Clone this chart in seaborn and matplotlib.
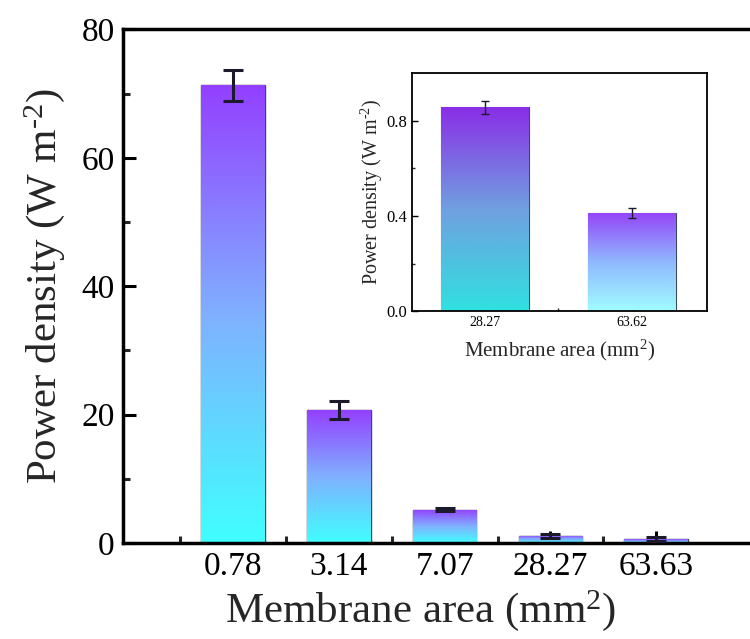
import numpy as np
import pandas as pd
import matplotlib
matplotlib.use('Agg')
import matplotlib.pyplot as plt
from matplotlib.colors import LinearSegmentedColormap
from matplotlib.ticker import MultipleLocator, FixedLocator
import seaborn as sns

# main chart data
areas = ['0.78', '3.14', '7.07', '28.27', '63.63']
power = [71.3, 20.7, 5.2, 1.1, 0.6]
power_err = [2.4, 1.4, 0.2, 0.3, 0.3]

# inset data
inset_areas = ['28.27', '63.62']
inset_power = [0.856, 0.413]
inset_err = [0.026, 0.021]

main_colors = ['#9340ff', '#80b0ff', '#40ffff']
inset_colors = [['#8a2ee6', '#70a0e0', '#30e0e0'],
                ['#9444f8', '#90b8ff', '#a0fcff']]

sns.set_theme(style='ticks')
plt.rcParams['font.family'] = ['Liberation Serif', 'DejaVu Serif']
plt.rcParams['mathtext.fontset'] = 'custom'
plt.rcParams['mathtext.rm'] = 'Liberation Serif'
plt.rcParams['mathtext.it'] = 'Liberation Serif:italic'
plt.rcParams['mathtext.bf'] = 'Liberation Serif:bold'

YLABEL = 'Power density (W m$^{\\text{-2}}$)'
XLABEL = 'Membrane area (mm$^{\\text{2}}$)'


def gradient_bars(ax, colors_list):
    """Fill each bar patch with a vertical gradient (top purple -> bottom cyan)"""
    grad = np.linspace(1, 0, 256).reshape(-1, 1)
    for patch, cols in zip(ax.patches, colors_list):
        cmap = LinearSegmentedColormap.from_list('g', cols[::-1])
        x0, y0 = patch.get_x(), patch.get_y()
        w, h = patch.get_width(), patch.get_height()
        im = ax.imshow(grad, aspect='auto', cmap=cmap, origin='upper',
                       extent=[x0, x0 + w, y0, y0 + h], zorder=patch.get_zorder())
        im.set_clip_path(patch)
        patch.set_facecolor('none')


fig = plt.figure(figsize=(7.5, 6.39), dpi=100)

# main axes
ax = fig.add_axes([0.164, 0.150, 0.852, 0.804])
df = pd.DataFrame({'area': areas, 'power': power})
sns.barplot(data=df, x='area', y='power', order=areas, width=0.6, ax=ax,
            edgecolor='#3a4a5a', linewidth=1.0, errorbar=None)
gradient_bars(ax, [main_colors] * len(areas))
ax.errorbar(range(len(areas)), power, yerr=power_err, fmt='none',
            ecolor='#1a1a2a', elinewidth=2.2, capsize=7, capthick=2.2, zorder=5)
ax.set_xlim(-1.04, 5)
ax.set_ylim(0, 80)
ax.yaxis.set_major_locator(MultipleLocator(20))
ax.yaxis.set_minor_locator(MultipleLocator(10))
ax.xaxis.set_minor_locator(FixedLocator([-0.5, 0.5, 1.5, 2.5, 3.5]))
ax.tick_params(axis='both', which='major', direction='in', length=9, width=2.2,
               labelsize=24, pad=6, colors='black')
ax.tick_params(axis='both', which='minor', direction='in', length=5, width=2.2)
ax.tick_params(top=False, right=False, which='both')
for s in ax.spines.values():
    s.set_linewidth(2.5)
    s.set_color('black')
ax.set_xlabel(XLABEL, fontsize=31)
ax.xaxis.set_label_coords(0.465, -0.088, transform=ax.transAxes)
ax.xaxis.label.set_va('top')
ax.set_ylabel(YLABEL, fontsize=31, labelpad=10)

# inset axes
ins = fig.add_axes([0.549, 0.513, 0.393, 0.3725])
idf = pd.DataFrame({'area': inset_areas, 'power': inset_power})
sns.barplot(data=idf, x='area', y='power', order=inset_areas, width=0.6, ax=ins,
            edgecolor='#3a4a5a', linewidth=0.8, errorbar=None)
gradient_bars(ins, inset_colors)
ins.errorbar(range(len(inset_areas)), inset_power, yerr=inset_err, fmt='none',
             ecolor='#1a1a2a', elinewidth=1.0, capsize=3, capthick=1.0, zorder=5)
ins.set_xlim(-0.5, 1.51)
ins.set_ylim(0, 1.0)
ins.yaxis.set_major_locator(FixedLocator([0.0, 0.4, 0.8]))
ins.yaxis.set_minor_locator(FixedLocator([0.2, 0.6]))
ins.xaxis.set_minor_locator(FixedLocator([0.5]))
ins.yaxis.set_major_formatter(plt.FuncFormatter(lambda v, p: f'{v:.1f}'))
ins.tick_params(axis='both', which='major', direction='in', length=4, width=1.0,
                colors='black')
ins.tick_params(axis='y', which='major', labelsize=12)
ins.tick_params(axis='x', which='major', labelsize=10)
ins.tick_params(axis='both', which='minor', direction='in', length=2.5, width=1.0)
ins.tick_params(top=False, right=False, which='both')
for s in ins.spines.values():
    s.set_linewidth(1.3)
    s.set_color('black')
ins.set_xlabel(XLABEL, fontsize=15, labelpad=6)
ins.set_ylabel(YLABEL, fontsize=14.5, labelpad=1)

fig.savefig('out.png', dpi=100)
